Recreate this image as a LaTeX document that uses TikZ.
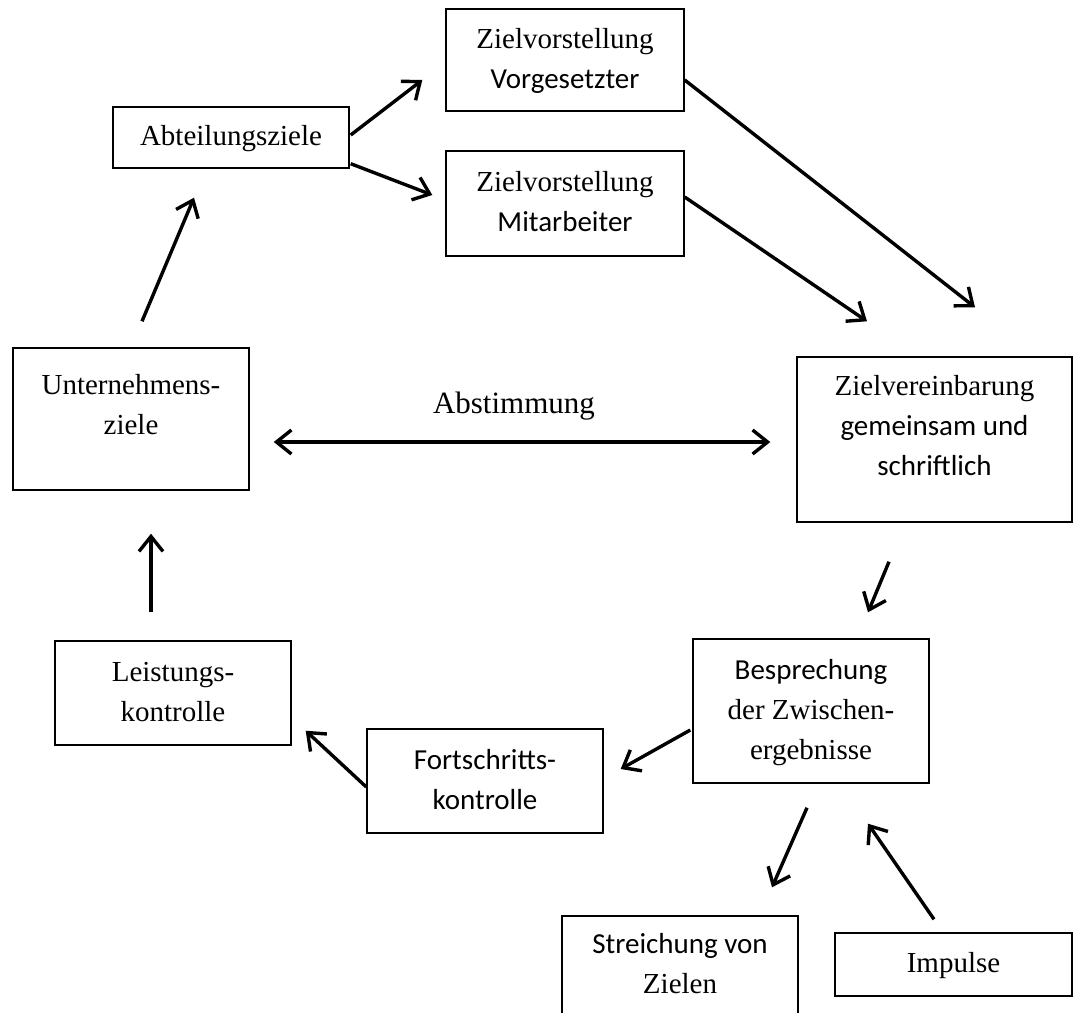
\documentclass[tikz,border=0pt]{standalone}
\usepackage{fontspec}
\setmainfont{Liberation Serif}
\newfontfamily\calfont{Carlito}
\usetikzlibrary{arrows.meta}
\newcommand\boxtext[2][0pt]{\raisebox{0pt}[\height][\dimexpr\depth+#1\relax]{\begin{tabular}{@{}c@{}}#2\end{tabular}}}
\begin{document}
\begin{tikzpicture}[x=1pt,y=-1pt,
  box/.style={draw, line width=1.4pt, rectangle, inner sep=0pt, font=\fontsize{29}{40}\selectfont},
  arr/.style={line width=3.4pt, -{Straight Barb[length=15pt,width=24pt]}},
  darr/.style={line width=3.4pt, {Straight Barb[length=15pt,width=24pt]}-{Straight Barb[length=15pt,width=24pt]}}]
\useasboundingbox (0,0) rectangle (1075,1012);
\clip (0,0) rectangle (1075,1012);
% boxes
\node[box, minimum width=236pt, minimum height=61pt] (abt) at (231,137.5) {\boxtext{Abteilungsziele}};
\node[box, minimum width=238pt, minimum height=102pt] (vor) at (565,60) {\boxtext{Zielvorstellung\\{\calfont Vorgesetzter}}};
\node[box, minimum width=238pt, minimum height=105pt] (mit) at (565,203.5) {\boxtext{Zielvorstellung\\{\calfont Mitarbeiter}}};
\node[box, minimum width=236pt, minimum height=142pt] (unt) at (131,419) {\boxtext[26pt]{Unternehmens-\\ziele}};
\node[box, minimum width=275pt, minimum height=165pt] (ziv) at (934.5,439.5) {\boxtext[25pt]{Zielvereinbarung\\{\calfont gemeinsam und}\\{\calfont schriftlich}}};
\node[box, minimum width=236pt, minimum height=144pt] (bes) at (811,711) {\boxtext{{\calfont Besprechung}\\der Zwischen-\\ergebnisse}};
\node[box, minimum width=236pt, minimum height=104pt] (lei) at (173,693) {\boxtext{Leistungs-\\kontrolle}};
\node[box, minimum width=236pt, minimum height=104pt] (fort) at (485,781) {\boxtext{{\calfont Fortschritts-}\\{\calfont kontrolle}}};
\node[box, minimum width=236pt, minimum height=98pt] (str) at (680,965) {\boxtext{{\calfont Streichung von}\\Zielen}};
\node[box, minimum width=237pt, minimum height=63pt] (imp) at (953.5,964.5) {\boxtext{Impulse}};
% label
\node[font=\fontsize{31}{40}\selectfont, anchor=base, inner sep=0pt] (abst) at (514,413) {Abstimmung};
% connectors
\draw[arr] ([shift={(11,-26)}]unt.north) -- ([shift={(-37,29)}]abt.south);
\draw[arr] ([shift={(1,-2.5)}]abt.east) -- ([shift={(-23,20)}]vor.west);
\draw[arr] ([shift={(1,-5)}]abt.south east) -- ([shift={(-13,-8.5)}]mit.west);
\draw[arr] ([shift={(0,20)}]vor.east) -- ([shift={(40.5,-49)}]ziv.north);
\draw[arr] ([shift={(0,-6.5)}]mit.east) -- ([shift={(-67.5,-35)}]ziv.north);
\draw[darr] ([shift={(24,23)}]unt.east) -- ([shift={(-26,2.5)}]ziv.west);
\draw[arr] ([shift={(-45.5,39)}]ziv.south) -- ([shift={(57,-26)}]bes.north);
\draw[arr] ([shift={(-2,19)}]bes.west) -- ([shift={(17,-12)}]fort.east);
\draw[arr] ([shift={(0,6)}]fort.west) -- ([shift={(14,-15)}]lei.south east);
\draw[arr] ([shift={(-22,-28)}]lei.north) -- ([shift={(20,43)}]unt.south);
\draw[arr] ([shift={(-4,24)}]bes.south) -- ([shift={(92,-28)}]str.north);
\draw[arr] ([shift={(-19.5,-13)}]imp.north) -- ([shift={(57,40)}]bes.south);
\end{tikzpicture}
\end{document}
